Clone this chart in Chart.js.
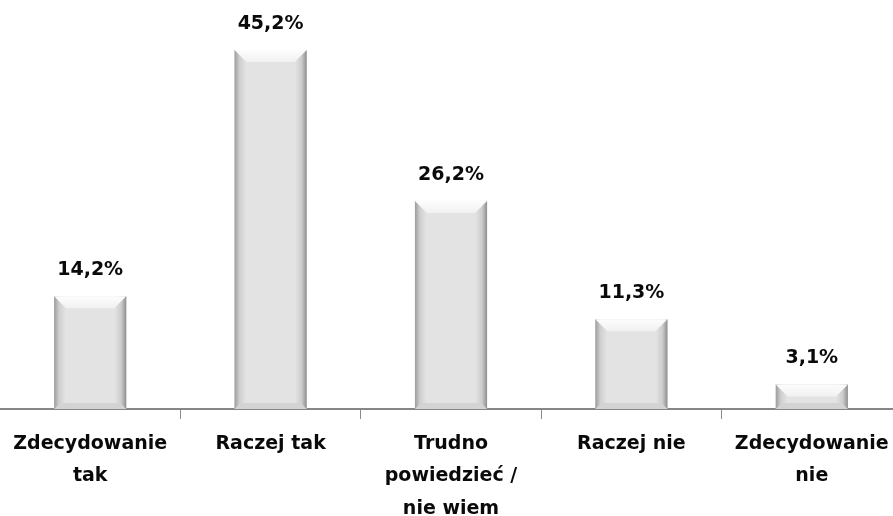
<!DOCTYPE html>
<html>
<head>
<meta charset="utf-8">
<script src="https://cdn.jsdelivr.net/npm/chart.js@4.4.0/dist/chart.umd.min.js"></script>
<style>
  html, body { margin: 0; padding: 0; background: #fff; overflow: hidden; }
  #wrap { width: 902px; height: 516px; }
</style>
</head>
<body>
<div id="wrap"><canvas id="answersChart" width="902" height="516"></canvas></div>
<script>
// answer categories (multi-line labels as in the picture)
const categories = [
    ["Zdecydowanie", "tak"],
    "Raczej tak",
    ["Trudno", "powiedzieć /", "nie wiem"],
    "Raczej nie",
    ["Zdecydowanie", "nie"]
];
const percentValues = [14.2, 45.2, 26.2, 11.3, 3.1];

const labelFont = "'DejaVu Sans', sans-serif";

// bevelled grey look drawn on top of the library's bar elements
const bevelBars = {
    id: "bevelBars",
    afterDatasetsDraw(chart){
        const ctx = chart.ctx;
        const meta = chart.getDatasetMeta(0);
        meta.data.forEach((bar, i) => {
            const l = bar.x - bar.width / 2, r = bar.x + bar.width / 2;
            const t = bar.y, b = bar.base;
            const h = b - t;
            ctx.save();

            const side = ctx.createLinearGradient(l, 0, r, 0);
            side.addColorStop(0, "#9c9c9c");
            side.addColorStop(0.07, "#cfcfcf");
            side.addColorStop(0.16, "#e3e3e3");
            side.addColorStop(0.84, "#e3e3e3");
            side.addColorStop(0.93, "#cccccc");
            side.addColorStop(1, "#8e8e8e");
            ctx.fillStyle = side;
            ctx.fillRect(l, t, r - l, h);

            // top bevel
            const d = Math.min(12, h / 2);
            const top = ctx.createLinearGradient(0, t, 0, t + d);
            top.addColorStop(0, "#fdfdfd");
            top.addColorStop(1, "#f1f1f1");
            ctx.fillStyle = top;
            ctx.beginPath();
            ctx.moveTo(l, t);
            ctx.lineTo(r, t);
            ctx.lineTo(r - d, t + d);
            ctx.lineTo(l + d, t + d);
            ctx.closePath();
            ctx.fill();

            // bottom bevel
            const e = Math.min(6, h / 3);
            ctx.fillStyle = "#d3d3d3";
            ctx.beginPath();
            ctx.moveTo(l, b);
            ctx.lineTo(r, b);
            ctx.lineTo(r - e, b - e);
            ctx.lineTo(l + e, b - e);
            ctx.closePath();
            ctx.fill();

            // value label
            ctx.fillStyle = "#0a0a0a";
            ctx.font = "bold 19px " + labelFont;
            ctx.textAlign = "center";
            ctx.textBaseline = "alphabetic";
            const v = percentValues[i].toFixed(1).replace(".", ",") + "%";
            ctx.fillText(v, bar.x, t - 21);
            ctx.restore();
        });
    }
};

const answersChart = new Chart(document.getElementById("answersChart"), {
    type: "bar",
    data: {
        labels: categories,
        datasets: [{
            data: percentValues,
            backgroundColor: "#e3e3e3",
            borderWidth: 0,
            categoryPercentage: 1.0,
            barPercentage: 0.4
        }]
    },
    options: {
        responsive: false,
        animation: false,
        layout: { padding: 0 },
        plugins: {
            legend: { display: false },
            tooltip: { enabled: false }
        },
        scales: {
            x: {
                offset: true,
                grid: {
                    offset: true,
                    drawOnChartArea: false,
                    drawTicks: true,
                    tickLength: 10,
                    lineWidth: 1,
                    color: c => (c.index === 0 ? "rgba(0,0,0,0)" : "#8a8a8a")
                },
                border: { color: "#868686", width: 2 },
                ticks: {
                    autoSkip: false,
                    maxRotation: 0,
                    padding: 9,
                    color: "#0a0a0a",
                    font: { family: labelFont, size: 19, weight: "bold", lineHeight: 1.7 }
                },
                afterFit(scale){ scale.height = 107; }
            },
            y: {
                display: false,
                min: 0,
                max: 51.5
            }
        }
    },
    plugins: [bevelBars]
});
</script>
</body>
</html>
